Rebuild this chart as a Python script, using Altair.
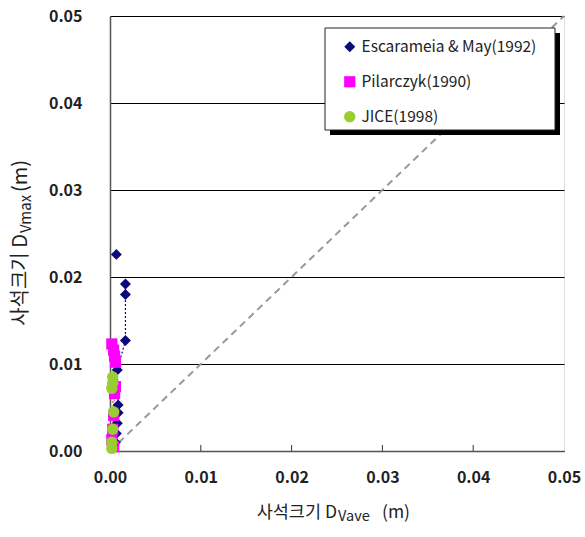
import altair as alt
import pandas as pd

# ---- data ----
series_names = ["Escarameia & May(1992)", "Pilarczyk(1990)", "JICE(1998)"]

esc_x = [0.0007, 0.0017, 0.0017, 0.0017, 0.0008, 0.0009, 0.0009, 0.0008, 0.0007, 0.0006]
esc_y = [0.0226, 0.0192, 0.0180, 0.0127, 0.0093, 0.0053, 0.0044, 0.0032, 0.0020, 0.0010]

pil_x = [0.0002, 0.0004, 0.0005, 0.0006, 0.0006, 0.0005, 0.0004, 0.0003, 0.0002, 0.0004]
pil_y = [0.0123, 0.0116, 0.0109, 0.0102, 0.0074, 0.0066, 0.0041, 0.0025, 0.0013, 0.0005]

jice_x = [0.0003, 0.0003, 0.0002, 0.0004, 0.0003, 0.0002, 0.0002]
jice_y = [0.0085, 0.0078, 0.0072, 0.0045, 0.0025, 0.0010, 0.0003]

diag_v = [0.0, 0.05]
x_ticks = [0.01, 0.02, 0.03, 0.04]
axis_values = [0.0, 0.01, 0.02, 0.03, 0.04, 0.05]

colors = ["#0a0a7a", "#ff00ff", "#9acd32"]
shapes = ["diamond", "square", "circle"]
sizes = [120, 130, 110]
line_colors = ["#0a0a7a", "#e040e0", "#d2691e"]

rows = []
for name, xs, ys in zip(series_names, [esc_x, pil_x, jice_x], [esc_y, pil_y, jice_y]):
    for i, (a, b) in enumerate(zip(xs, ys)):
        rows.append({"series": name, "x": a, "y": b, "i": i})
df = pd.DataFrame(rows)

FONT = "Noto Sans CJK KR"
W, H = 454, 435

xscale = alt.Scale(domain=[0, 0.05], nice=False, zero=False)
yscale = alt.Scale(domain=[0, 0.05], nice=False, zero=False)

xenc = alt.X("x:Q", scale=xscale, axis=alt.Axis(
    values=axis_values, format=".2f", title=None, grid=False, ticks=False,
    labelFont=FONT, labelFontSize=16, labelFontWeight="bold", labelColor="#222",
    labelPadding=18, domainColor="#555", domainWidth=1.5, labelFlush=False))
yenc = alt.Y("y:Q", scale=yscale, axis=alt.Axis(
    values=axis_values, format=".2f", title=None, grid=True, gridColor="#000",
    gridWidth=1, gridOpacity=1, ticks=False,
    labelFont=FONT, labelFontSize=16, labelFontWeight="bold", labelColor="#222",
    labelPadding=28, domainColor="#555", domainWidth=1.5, labelFlush=False))

one = alt.Data(values=[{"k": 1}])

diag = alt.Chart(pd.DataFrame({"x": diag_v, "y": diag_v})).mark_line(
    color="#999999", strokeDash=[7, 5], strokeWidth=2).encode(x=xenc, y=yenc)

ticks = alt.Chart(pd.DataFrame({"x": x_ticks})).mark_rule(color="#333", strokeWidth=1).encode(
    x=alt.X("x:Q", scale=xscale), y=alt.value(H), y2=alt.value(H - 6))

lines = []
for name, lc in zip(series_names, line_colors):
    base = alt.Chart(df).transform_filter(alt.datum.series == name)
    if name == series_names[0]:
        base = base.transform_filter(alt.datum.i > 0)
    lines.append(base.mark_line(color=lc, strokeDash=[2, 2], strokeWidth=1.2).encode(
        x=alt.X("x:Q", scale=xscale), y=alt.Y("y:Q", scale=yscale), order="i:Q"))

shadow = alt.Chart(one).mark_rect(color="#000").encode(
    x=alt.value(220), x2=alt.value(450), y=alt.value(17), y2=alt.value(119))
box = alt.Chart(one).mark_rect(fill="white", stroke="#222", strokeWidth=1).encode(
    x=alt.value(215), x2=alt.value(445), y=alt.value(12), y2=alt.value(114))

points = alt.Chart(df).mark_point(filled=True, opacity=1, clip=False).encode(
    x=alt.X("x:Q", scale=xscale),
    y=alt.Y("y:Q", scale=yscale),
    color=alt.Color("series:N", sort=series_names,
                    scale=alt.Scale(domain=series_names, range=colors),
                    legend=alt.Legend(title=None, orient="none", legendX=232, legendY=23,
                                      labelFont=FONT, labelFontSize=15.5, labelColor="#222",
                                      labelLimit=400,
                                      rowPadding=18, labelOffset=4, padding=0)),
    shape=alt.Shape("series:N", sort=series_names,
                    scale=alt.Scale(domain=series_names, range=shapes), legend=None),
    size=alt.Size("series:N", sort=series_names,
                  scale=alt.Scale(domain=series_names, range=sizes), legend=None),
)

# axis titles with subscripts
def txt(t, x, y, size=17.5, align="left", angle=0):
    return alt.Chart(one).mark_text(text=t, font=FONT, fontSize=size, align=align,
                                    baseline="middle", angle=angle, color="#222").encode(
        x=alt.value(x), y=alt.value(y))

titles = [
    txt("사석크기 D", 227, 497, 17.5, "right"),
    txt("Vave", 228, 501, 14.5, "left"),
    txt("(m)", 272, 497, 17.5, "left"),
    txt("사석크기 D", -89, 218, 20, "right", 270),
    txt("Vmax", -84, 217, 15, "left", 270),
    txt("(m)", -89, 176, 20, "left", 270),
]

chart = alt.layer(diag, ticks, *lines, shadow, box, points, *titles).properties(
    width=W, height=H,
    padding={"left": 110, "top": 16, "right": 21, "bottom": 86},
    autosize=alt.AutoSizeParams(type="none"),
).configure_view(stroke="#555", strokeWidth=1.5).configure(background="white")

chart.save("out.html", embed_options={"renderer": "svg", "actions": False})
